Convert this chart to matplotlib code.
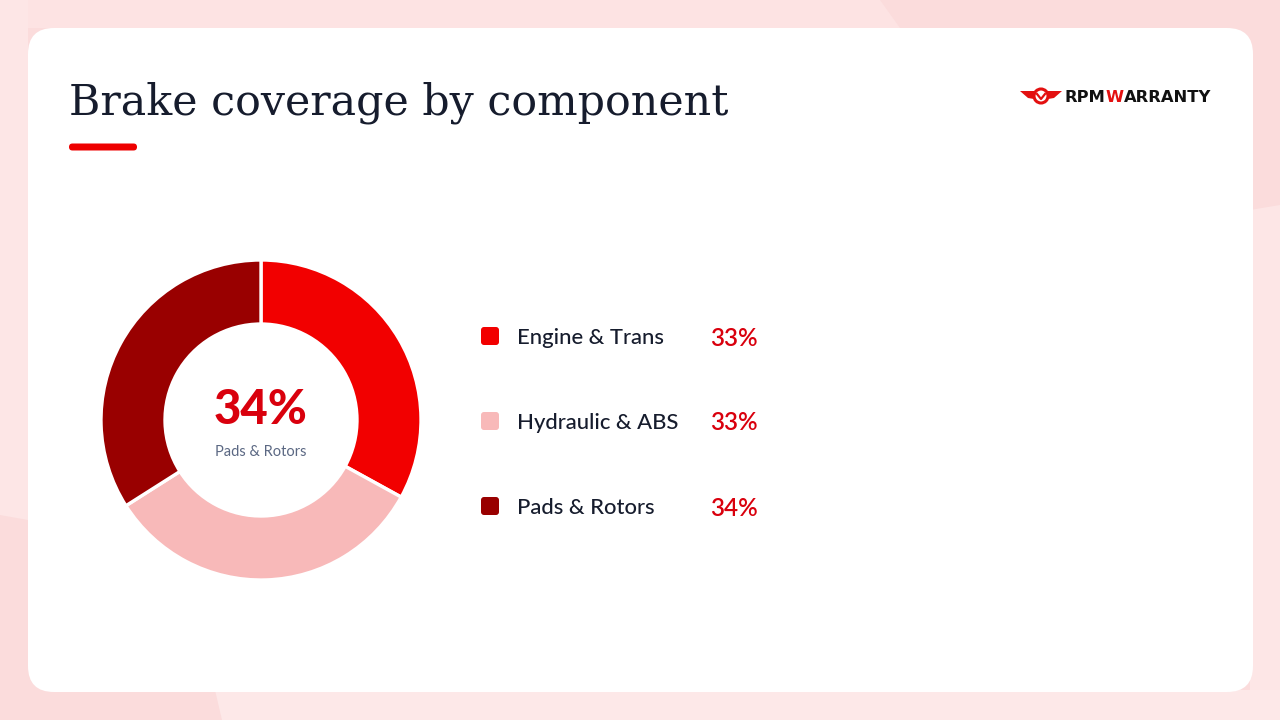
import matplotlib
matplotlib.use("Agg")
import matplotlib.pyplot as plt
from matplotlib.patches import FancyBboxPatch, Polygon, Circle

# data
components = ["Engine & Trans", "Hydraulic & ABS", "Pads & Rotors"]
shares = [33, 33, 34]
colors = ["#f20000", "#f8b9b9", "#990000"]
highlight = 2  # index shown in the middle of the donut

W, H = 1280, 720
fig = plt.figure(figsize=(12.8, 7.2), dpi=100)
fig.patch.set_facecolor("#fbdcdc")

bg = fig.add_axes([0, 0, 1, 1])
bg.set_xlim(0, W)
bg.set_ylim(H, 0)
bg.axis("off")

# soft background shapes
bg.add_patch(Polygon([(0, 0), (880, 0), (900, 28), (0, 28)], closed=True,
                     fc="#fde3e3", ec="none", zorder=0))
bg.add_patch(Polygon([(1250, 210), (1280, 205), (1280, 720), (1250, 720)], closed=True,
                     fc="#fde6e6", ec="none", zorder=0))
bg.add_patch(Polygon([(0, 0), (28, 0), (28, 520), (0, 515)], closed=True,
                     fc="#fde6e6", ec="none", zorder=0))
bg.add_patch(Polygon([(215, 690), (1280, 690), (1280, 720), (222, 720)], closed=True,
                     fc="#fde8e8", ec="none", zorder=0))

# white card
bg.add_patch(FancyBboxPatch((28, 28), 1225, 664, boxstyle="round,pad=0,rounding_size=26",
                            fc="white", ec="none", zorder=1))

# title + accent bar
bg.text(69, 114, "Brake coverage by component", fontsize=30.8, family="DejaVu Serif",
        color="#161c2d", va="baseline", ha="left", zorder=3)
bg.add_patch(FancyBboxPatch((69, 143.5), 68, 7, boxstyle="round,pad=0,rounding_size=3.5",
                            fc="#ee0000", ec="none", zorder=3))

# logo
t1 = bg.text(1065, 102, "RPM", fontsize=11.8, fontweight="bold", family="DejaVu Sans",
             color="#111111", va="baseline", ha="left", zorder=3)
t2 = bg.annotate("W", xy=(1, 0), xycoords=t1, fontsize=11.8, fontweight="bold",
                 family="DejaVu Sans", color="#e31010", va="bottom", ha="left", zorder=3)
bg.annotate("ARRANTY", xy=(1, 0), xycoords=t2, fontsize=11.8, fontweight="bold",
            family="DejaVu Sans", color="#111111", va="bottom", ha="left", zorder=3)
bg.add_patch(Polygon([(1020, 91), (1036, 91), (1040, 100), (1028, 98)], closed=True,
                     fc="#e31010", ec="none", zorder=3))
bg.add_patch(Polygon([(1062, 91), (1046, 91), (1042, 100), (1054, 98)], closed=True,
                     fc="#e31010", ec="none", zorder=3))
bg.add_patch(Circle((1041, 96), 7, fc="white", ec="#e31010", lw=2.2, zorder=4))
bg.plot([1037, 1041, 1045], [94, 99, 94], color="#e31010", lw=1.6, zorder=5)

# donut
cx, cy, r = 261, 420, 160
ax = fig.add_axes([(cx - r) / W, (H - cy - r) / H, 2 * r / W, 2 * r / H])
wedges, _ = ax.pie(shares, colors=colors, startangle=90, counterclock=False, radius=1,
                   wedgeprops=dict(width=0.4, edgecolor="white", linewidth=2.4))
for w in wedges:
    w.set_clip_on(False)
ax.set_xlim(-1, 1)
ax.set_ylim(-1, 1)
ax.set_aspect("equal")
ax.axis("off")
ax.text(0, 0.06, f"{shares[highlight]}%", fontsize=34, fontweight="black", family="Lato",
        color="#d9000d", ha="center", va="center")
ax.text(0, -0.2, components[highlight], fontsize=10.5, family="Lato",
        color="#5b6883", ha="center", va="center")

# legend rows
row_y = [336, 421, 506]
for name, val, col, y in zip(components, shares, colors, row_y):
    bg.add_patch(FancyBboxPatch((481, y - 9), 18, 18, boxstyle="round,pad=0,rounding_size=3",
                                fc=col, ec="none", zorder=3))
    bg.text(517, y + 2, name, fontsize=15.8, family="Lato", fontweight="medium", color="#161c2d",
            va="center", ha="left", zorder=3)
    bg.text(710, y + 2, f"{val}%", fontsize=17.5, family="Lato", fontweight="semibold",
            color="#d9000d", va="center", ha="left", zorder=3)

fig.savefig("out.png", dpi=100, facecolor=fig.get_facecolor())
